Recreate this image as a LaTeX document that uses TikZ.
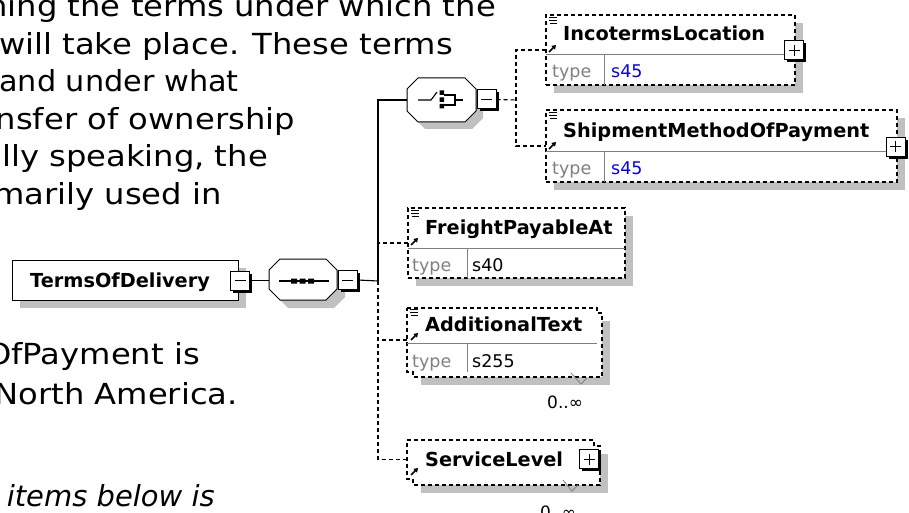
\documentclass[tikz,border=0pt]{standalone}
\usepackage{fontspec}
\usetikzlibrary{arrows.meta,shadows}
\newfontfamily\bodyfont[FakeStretch=1.11]{DejaVu Sans}
\newfontfamily\bodyfontnarrow[FakeStretch=1.045]{DejaVu Sans}
\newfontfamily\plainfont{DejaVu Sans}
\definecolor{shadegrey}{HTML}{C0C0C0}
\definecolor{divgrey}{HTML}{808080}
\definecolor{typeblue}{HTML}{0000FF}
\tikzset{
  body/.style={font=\bodyfont\fontsize{29}{35}\selectfont, anchor=base east, inner sep=0pt},
  bodynarrow/.style={font=\bodyfontnarrow\fontsize{29}{35}\selectfont, anchor=base east, inner sep=0pt},
  bodyit/.style={font=\plainfont\itshape\fontsize{29}{35}\selectfont, anchor=base east, inner sep=0pt},
  elname/.style={font=\plainfont\bfseries\fontsize{19.3}{23}\selectfont, anchor=base west, inner sep=0pt},
  typelbl/.style={font=\plainfont\fontsize{17.5}{20}\selectfont, text=divgrey, anchor=base west, inner sep=0pt},
  typeval/.style={font=\plainfont\fontsize{17.5}{20}\selectfont, anchor=base west, inner sep=0pt},
  occ/.style={font=\plainfont\fontsize{17}{20}\selectfont, anchor=base west, inner sep=0pt},
  dsh/.style={dash pattern=on 4pt off 3pt, line width=1.1pt},
  conn/.style={line width=1.1pt},
  boxnode/.style={inner sep=0pt, outer sep=0pt},
  pm/.style={draw, fill=white, line width=1pt, minimum size=19pt, inner sep=0pt,
    drop shadow={shadow xshift=2.5pt, shadow yshift=-2.5pt, fill=black, opacity=1}},
  divline/.style={draw=divgrey, line width=1pt},
  icon/.style={line width=0.9pt},
  arr/.style={line width=1.6pt, -{Triangle[length=4pt,width=5pt]}},
  tick/.style={draw=divgrey, line width=0.8pt},
}
\newcommand\octa[6]{% x1 y1 x2 y2 chamfer style
  \path[#6] (#1+#5,#2) -- (#3-#5,#2) -- (#3,#2+#5) -- (#3,#4-#5) -- (#3-#5,#4) -- (#1+#5,#4) -- (#1,#4-#5) -- (#1,#2+#5) -- cycle;}
\newcommand\lines[2]{% x y : the three-line icon
  \draw[icon] (#1,#2) -- +(8,0) (#1,#2+3) -- +(8,0) (#1+1,#2+6) -- +(7,0);}
\begin{document}
\begin{tikzpicture}[x=1pt,y=-1pt]
\useasboundingbox (0,0) rectangle (909,513);
\clip (0,0) rectangle (909,513);
\fill[white] (0,0) rectangle (909,513);

% ---------- running text
\node[body] (l1) at (496,17) {ning the terms under which the};
\node[body] (l2) at (453,55) {will take place. These terms};
\node[bodynarrow] (l3) at (239,92) {and under what};
\node[body] (l4) at (295,130) {nsfer of ownership};
\node[body] (l5) at (268,167) {lly speaking, the};
\node[body] (l6) at (222,204) {marily used in};
\node[body] (l7) at (200,364) {OfPayment is};
\node[body] (l8) at (238,404) {North America.};
\node[bodyit] (l9) at (215,506) {items below is};

% ---------- shadows
\fill[shadegrey] (20,268) rectangle (246,308);
\octa{277}{267}{345}{308}{11}{fill=shadegrey}
\octa{414}{85}{483}{129}{11}{fill=shadegrey}
\fill[shadegrey] (554,23) rectangle (803,93);
\fill[shadegrey] (554,118) rectangle (905,190);
\fill[shadegrey] (416,216) rectangle (633,286);
\fill[shadegrey] (421,321) rectangle (610,385);
\fill[shadegrey] (421,454) rectangle (608,493);

% ---------- root element
\node[boxnode, draw, line width=1pt, fill=white, minimum width=226pt, minimum height=40pt] (tod) at (125,280) {};
\node[elname] (todt) at (30,287) {TermsOfDelivery};
\node[pm] (todm) at (240,280.5) {};
\draw[line width=1pt] ([xshift=-5.5pt]todm.center) -- ([xshift=5.5pt]todm.center);

% ---------- sequence compositor
\octa{269}{259}{337}{300}{11}{draw, fill=white, line width=1pt}
\node[boxnode, minimum width=68pt, minimum height=41pt] (seq) at (303,279.5) {};
\draw[line width=1.1pt] (279,281) -- (329,281);
\fill (291,278.5) rectangle (297,283.5) (299.5,278.5) rectangle (305.5,283.5) (308,278.5) rectangle (314,283.5);
\node[pm] (seqm) at (347.5,280) {};
\draw[line width=1pt] ([xshift=-5.5pt]seqm.center) -- ([xshift=5.5pt]seqm.center);

% ---------- choice compositor
\octa{407}{78}{476}{122}{11}{draw, fill=white, line width=1pt}
\node[boxnode, minimum width=69pt, minimum height=44pt] (cho) at (441.5,100) {};
\draw[line width=1.1pt] (418,100) -- (431,100) -- (437,92);
\fill (439.5,90.5) rectangle (444,95) (439.5,97.5) rectangle (444,102) (439.5,104) rectangle (444,108.5);
\draw[line width=1.1pt] (444,95) -- (455,95) -- (455,105) -- (444,105) (455,100) -- (463,100);
\node[pm] (chom) at (486.5,99.5) {};
\draw[line width=1pt] ([xshift=-5.5pt]chom.center) -- ([xshift=5.5pt]chom.center);

% ---------- junction coordinates
\coordinate (jv) at (378,100);
\coordinate (js) at (378,281);
\coordinate (jc) at (516,100);

% ---------- IncotermsLocation
\node[boxnode, draw, dsh, fill=white, minimum width=249pt, minimum height=70pt] (inc) at (670.5,50) {};
\draw[divline] (546,55) -- (795,55) (604,55) -- (604,85);
\node[elname] (inct) at (563,41) {IncotermsLocation};
\node[typelbl] (incty) at (552,78) {type};
\node[typeval, text=typeblue] (incv) at (611,78) {s45};
\lines{549}{17}
\draw[arr] (549,52) -- (556,45);
\node[pm] (incp) at (794,50.5) {};
\draw[line width=1pt] ([xshift=-5.5pt]incp.center) -- ([xshift=5.5pt]incp.center) ([yshift=-5.5pt]incp.center) -- ([yshift=5.5pt]incp.center);

% ---------- ShipmentMethodOfPayment
\node[boxnode, draw, dsh, fill=white, minimum width=351pt, minimum height=72pt] (ship) at (721.5,146) {};
\draw[divline] (546,152) -- (897,152) (604,152) -- (604,182);
\node[elname] (shipt) at (563,138) {ShipmentMethodOfPayment};
\node[typelbl] (shipty) at (552,175) {type};
\node[typeval, text=typeblue] (shipv) at (611,175) {s45};
\lines{549}{112}
\draw[arr] (549,149) -- (556,142);
\node[pm] (shipp) at (895.5,147) {};
\draw[line width=1pt] ([xshift=-5.5pt]shipp.center) -- ([xshift=5.5pt]shipp.center) ([yshift=-5.5pt]shipp.center) -- ([yshift=5.5pt]shipp.center);

% ---------- FreightPayableAt
\node[boxnode, draw, dsh, fill=white, minimum width=217pt, minimum height=70pt] (frt) at (516.5,243) {};
\draw[divline] (408,248) -- (625,248) (467,248) -- (467,278);
\node[elname] (frtt) at (425,234) {FreightPayableAt};
\node[typelbl] (frtty) at (412,271) {type};
\node[typeval] (frtv) at (472,271) {s40};
\lines{411}{210}
\draw[arr] (411,245) -- (418,238);

% ---------- AdditionalText (multiple)
\fill[white] (407,308) rectangle (597,372) (413,313) rectangle (602,377);
\node[boxnode, minimum width=190pt, minimum height=64pt] (add) at (502,340) {};
\draw[dsh] (407,308) -- (597,308) -- (597,313) -- (602,313) -- (602,377) -- (413,377) -- (413,372) -- (407,372) -- cycle;
\draw[divline] (407,343) -- (597,343) (467,343) -- (467,372);
\node[elname] (addt) at (425,331) {AdditionalText};
\node[typelbl] (addty) at (412,367) {type};
\node[typeval] (addv) at (472,367) {s255};
\lines{410}{309}
\draw[arr] (411,340) -- (418,333);
\draw[tick] (571,373) -- (581,384) -- (587,378);
\node[occ] (addo) at (547,408) {0..∞};

% ---------- ServiceLevel (multiple)
\fill[white] (407,440) rectangle (594,479) (413,446) rectangle (600,485);
\node[boxnode, minimum width=187pt, minimum height=39pt] (svc) at (500.5,459.5) {};
\draw[dsh] (407,440) -- (594,440) -- (594,446) -- (600,446) -- (600,485) -- (413,485) -- (413,479) -- (407,479) -- cycle;
\node[elname] (svct) at (425,466) {ServiceLevel};
\draw[arr] (411,475) -- (418,468);
\draw[tick] (563,480) -- (572,491) -- (578,485);
\node[pm] (svcp) at (589,459) {};
\draw[line width=1pt] ([xshift=-5.5pt]svcp.center) -- ([xshift=5.5pt]svcp.center) ([yshift=-5.5pt]svcp.center) -- ([yshift=5.5pt]svcp.center);
\node[occ] (svco) at (540,518) {0..∞};

% ---------- connectors
\draw[conn] (todm.east) -- (seq.west |- todm.east);
\draw[conn] (seqm.east) -- (js);
\draw[conn] (js) -- (jv) -- (cho.west);
\draw[conn, dsh] (chom.east) -- (jc);
\draw[conn, dsh] (inc.west) -| (jc) |- (ship.west);
\draw[conn, dsh] (frt.west) -- (frt.west -| js);
\draw[conn, dsh] (js) -- (js |- svc.west) -- (svc.west);
\draw[conn, dsh] (add.west) -- (add.west -| js);
\end{tikzpicture}
\end{document}
